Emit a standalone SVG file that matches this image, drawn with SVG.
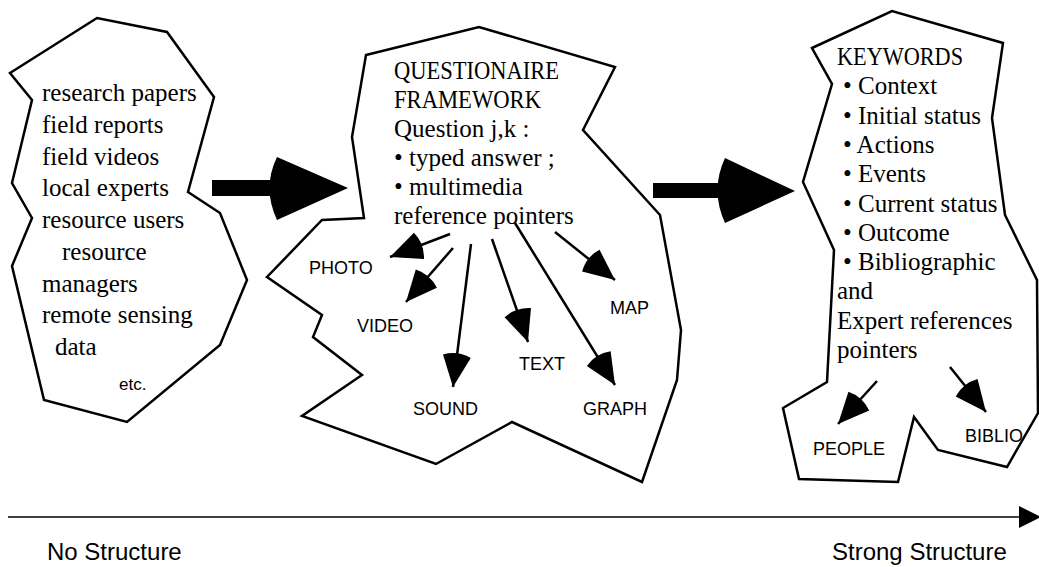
<svg xmlns="http://www.w3.org/2000/svg" width="1039" height="567" viewBox="0 0 1039 567">
<defs>
<style>
.blob{fill:#fff;stroke:#000;stroke-width:2.5;stroke-linejoin:miter}
.serif{font-family:"Liberation Serif","Times New Roman",serif;font-size:25px;fill:#000}
.sans{font-family:"Liberation Sans",Arial,sans-serif;font-size:18px;fill:#000}
.axis-label{font-family:"Liberation Sans",Arial,sans-serif;font-size:24px;fill:#000}
.ptr{stroke:#000;stroke-width:2.5;fill:none;marker-end:url(#head)}
.big{fill:#000}
</style>
<marker id="head" markerUnits="userSpaceOnUse" viewBox="-7 -15 40 30" markerWidth="40" markerHeight="30" refX="31" refY="0" orient="auto" overflow="visible">
<path d="M0,-14 Q-6,0 0,14 L31,0 Z" fill="#000"/>
</marker>
</defs>

<g id="node-sources">
<polygon class="blob" points="10,73 97,18 167,32 214,97 188,192 220,213 247,280 220,345 127,422 44,400 12,266 32,218 12,183 32,100"/>
<text class="serif" x="42" y="101">research papers</text>
<text class="serif" x="42" y="133">field reports</text>
<text class="serif" x="42" y="165">field videos</text>
<text class="serif" x="42" y="196">local experts</text>
<text class="serif" x="42" y="228">resource users</text>
<text class="serif" x="62" y="260">resource</text>
<text class="serif" x="42" y="292">managers</text>
<text class="serif" x="42" y="323">remote sensing</text>
<text class="serif" x="55" y="355">data</text>
<text class="sans" x="119" y="390" style="font-size:17px">etc.</text>
</g>

<g id="node-questionnaire">
<polygon class="blob" points="366,55 479,27 615,67 583,130 660,215 681,330 677,380 642,482 512,422 436,464 302,416 362,375 313,337 322,315 267,277 322,220 364,218 352,137"/>
<text class="serif" x="394" y="79" textLength="165" lengthAdjust="spacingAndGlyphs">QUESTIONAIRE</text>
<text class="serif" x="394" y="108" textLength="147" lengthAdjust="spacingAndGlyphs">FRAMEWORK</text>
<text class="serif" x="394" y="137">Question j,k :</text>
<text class="serif" x="394" y="166">• typed answer ;</text>
<text class="serif" x="394" y="195">• multimedia</text>
<text class="serif" x="394" y="224">reference pointers</text>
</g>

<g id="node-keywords">
<polygon class="blob" points="812,48 892,11 1003,43 992,118 1005,215 1037,280 1038,413 1007,467 938,450 914,417 898,482 799,479 783,408 827,382 834,250 803,182 832,84"/>
<text class="serif" x="837" y="65" textLength="126" lengthAdjust="spacingAndGlyphs">KEYWORDS</text>
<text class="serif" x="843" y="94">• Context</text>
<text class="serif" x="843" y="124">• Initial status</text>
<text class="serif" x="843" y="153">• Actions</text>
<text class="serif" x="843" y="182">• Events</text>
<text class="serif" x="843" y="212">• Current status</text>
<text class="serif" x="843" y="241">• Outcome</text>
<text class="serif" x="843" y="270">• Bibliographic</text>
<text class="serif" x="837" y="299">and</text>
<text class="serif" x="837" y="329">Expert references</text>
<text class="serif" x="837" y="358">pointers</text>
</g>

<g id="node-photo"><text class="sans" x="309" y="274">PHOTO</text></g>
<g id="node-video"><text class="sans" x="357" y="332">VIDEO</text></g>
<g id="node-sound"><text class="sans" x="413" y="415">SOUND</text></g>
<g id="node-text"><text class="sans" x="519" y="370">TEXT</text></g>
<g id="node-graph"><text class="sans" x="583" y="415">GRAPH</text></g>
<g id="node-map"><text class="sans" x="610" y="314">MAP</text></g>
<g id="node-people"><text class="sans" x="813" y="455">PEOPLE</text></g>
<g id="node-biblio"><text class="sans" x="965" y="442">BIBLIO</text></g>

<g id="node-no-structure"><text class="axis-label" x="47" y="560">No Structure</text></g>
<g id="node-strong-structure"><text class="axis-label" x="832" y="560">Strong Structure</text></g>

<g id="connectors">
<rect class="big" x="212" y="180" width="67" height="16"/>
<path class="big" d="M277,157 Q262,188 277,220 L348,188 Z"/>
<rect class="big" x="653" y="183" width="74" height="15"/>
<path class="big" d="M725,158 Q710,190 725,223 L795,191 Z"/>
<line class="ptr" x1="450" y1="234" x2="390" y2="257"/>
<line class="ptr" x1="453" y1="248" x2="406" y2="302"/>
<line class="ptr" x1="471" y1="244" x2="453" y2="387"/>
<line class="ptr" x1="492" y1="239" x2="528" y2="342"/>
<line class="ptr" x1="515" y1="223" x2="615" y2="385"/>
<line class="ptr" x1="555" y1="232" x2="615" y2="280"/>
<line class="ptr" x1="877" y1="381" x2="838" y2="424"/>
<line class="ptr" x1="950" y1="367" x2="986" y2="412"/>
<line x1="8" y1="517" x2="1022" y2="517" stroke="#000" stroke-width="1.3"/>
<polygon points="1019,506 1041,517 1019,528" fill="#000"/>
</g>
</svg>
